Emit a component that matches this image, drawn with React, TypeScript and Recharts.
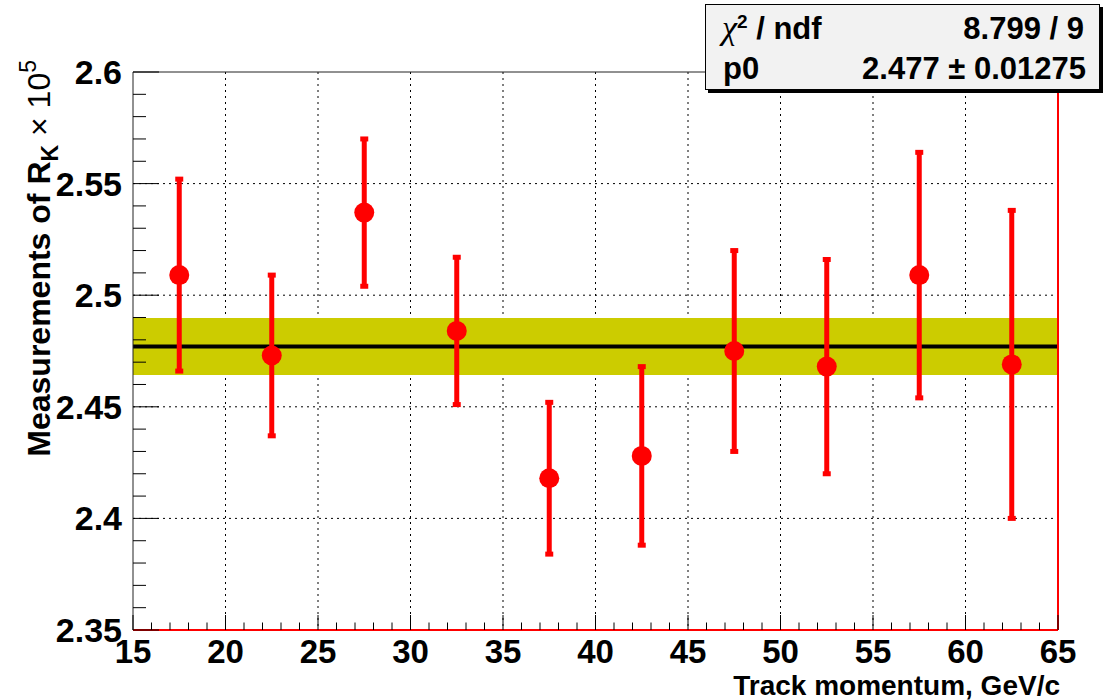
import React from 'react';
import {
  CartesianGrid,
  ComposedChart,
  ErrorBar,
  Label,
  ReferenceArea,
  ReferenceLine,
  Scatter,
  XAxis,
  YAxis,
} from 'recharts';

// measurements per momentum bin
const momentum = [17.5, 22.5, 27.5, 32.5, 37.5, 42.5, 47.5, 52.5, 57.5, 62.5];
const rk = [2.509, 2.473, 2.537, 2.484, 2.418, 2.428, 2.475, 2.468, 2.509, 2.469];
const rkErr = [0.043, 0.036, 0.033, 0.033, 0.034, 0.04, 0.045, 0.048, 0.055, 0.069];

// constant fit
const fitP0 = 2.477;
const fitP0Err = 0.01275;
const fitChi2 = '8.799';
const fitNdf = '9';

const xMajorTicks = [15, 20, 25, 30, 35, 40, 45, 50, 55, 60, 65];
const xMinorTicks = [
  16, 17, 18, 19, 21, 22, 23, 24, 26, 27, 28, 29, 31, 32, 33, 34, 36, 37, 38, 39, 41, 42, 43,
  44, 46, 47, 48, 49, 51, 52, 53, 54, 56, 57, 58, 59, 61, 62, 63, 64,
];
const yMajorTicks = [2.35, 2.4, 2.45, 2.5, 2.55, 2.6];
const yMinorTicks = [
  2.36, 2.37, 2.38, 2.39, 2.41, 2.42, 2.43, 2.44, 2.46, 2.47, 2.48, 2.49, 2.51, 2.52, 2.53, 2.54,
  2.56, 2.57, 2.58, 2.59,
];

const points = momentum.map((x, i) => ({ x, y: rk[i], err: rkErr[i] }));
const xTicks = [...xMajorTicks, ...xMinorTicks].sort((a, b) => a - b);
const yTicks = [...yMajorTicks, ...yMinorTicks].sort((a, b) => a - b);

const FONT = '"Liberation Sans", Arial, Helvetica, sans-serif';

function XTick(props: any) {
  const { x, y, payload } = props;
  const major = xMajorTicks.includes(payload.value);
  return (
    <g>
      <line x1={x} y1={y} x2={x} y2={y - (major ? 15 : 7.5)} stroke="#000" strokeWidth={1} />
      {major && (
        <text x={x} y={y + 33} textAnchor="middle" fontFamily={FONT} fontWeight="bold" fontSize={33} fill="#000">
          {payload.value}
        </text>
      )}
    </g>
  );
}

function YTick(props: any) {
  const { x, y, payload } = props;
  const major = yMajorTicks.includes(payload.value);
  return (
    <g>
      <line x1={x} y1={y} x2={x + (major ? 26 : 13)} y2={y} stroke="#000" strokeWidth={1} />
      {major && (
        <text x={x - 11} y={y + 12} textAnchor="end" fontFamily={FONT} fontWeight="bold" fontSize={34} fill="#000">
          {payload.value}
        </text>
      )}
    </g>
  );
}

function XTitle(props: any) {
  const { x, y, width } = props.viewBox;
  return (
    <text x={x + width + 2} y={y + 65} textAnchor="end" fontFamily={FONT} fontWeight="bold" fontSize={28} fill="#000">
      Track momentum, GeV/c
    </text>
  );
}

function YTitle(props: any) {
  const { x, y } = props.viewBox;
  const ax = x + 50;
  const ay = y - 12;
  return (
    <text
      x={ax}
      y={ay}
      transform={`rotate(-90 ${ax} ${ay})`}
      textAnchor="end"
      fontFamily={FONT}
      fontSize={32}
      fill="#000"
    >
      <tspan fontWeight="bold">Measurements of R</tspan>
      <tspan fontWeight="bold" fontSize={23} dy={8}>K</tspan>
      <tspan dy={-8}> × 10</tspan>
      <tspan fontSize={23} dy={-14}>5</tspan>
    </text>
  );
}

function Marker(props: any) {
  const { cx, cy } = props;
  return <circle cx={cx} cy={cy} r={10} fill="#ff0000" />;
}

export default function App() {
  return (
    <div style={{ position: 'absolute', left: 0, top: 0, width: 1106, height: 700, background: '#fff' }}>
      <ComposedChart width={1106} height={700} margin={{ top: 72, right: 48, bottom: 0, left: 0 }}>
        <CartesianGrid
          stroke="#000"
          strokeDasharray="2 4"
          horizontalValues={yMajorTicks.slice(1, -1)}
          verticalValues={xMajorTicks.slice(1, -1)}
        />
        <XAxis
          type="number"
          dataKey="x"
          domain={[15, 65]}
          ticks={xTicks}
          interval={0}
          height={70}
          tickLine={false}
          tickSize={0}
          tickMargin={0}
          tick={<XTick />}
          axisLine={{ stroke: '#ff0000', strokeWidth: 2 }}
          allowDataOverflow
        >
          <Label content={<XTitle />} />
        </XAxis>
        <YAxis
          type="number"
          dataKey="y"
          domain={[2.35, 2.6]}
          ticks={yTicks}
          interval={0}
          width={133}
          tickLine={false}
          tickSize={0}
          tickMargin={0}
          tick={<YTick />}
          axisLine={{ stroke: '#222', strokeWidth: 1 }}
          allowDataOverflow
        >
          <Label content={<YTitle />} />
        </YAxis>
        <ReferenceArea
          x1={15}
          x2={65}
          y1={fitP0 - fitP0Err}
          y2={fitP0 + fitP0Err}
          fill="#cccc00"
          fillOpacity={1}
          stroke="none"
        />
        <ReferenceLine y={fitP0} stroke="#000" strokeWidth={4} />
        <ReferenceLine y={2.6} stroke="#222" strokeWidth={1} />
        <ReferenceLine x={65} stroke="#ff0000" strokeWidth={2} />
        <Scatter data={points} dataKey="y" fill="#ff0000" shape={<Marker />} isAnimationActive={false}>
          <ErrorBar dataKey="err" direction="y" width={4} strokeWidth={5} stroke="#ff0000" isAnimationActive={false} />
        </Scatter>
      </ComposedChart>
      <div
        style={{
          position: 'absolute',
          left: 705,
          top: 4,
          width: 393,
          height: 84,
          background: '#f2f2f2',
          border: '1px solid #000',
          boxShadow: '3px 3px 0 #000',
          fontFamily: FONT,
          fontWeight: 'bold',
          fontSize: 31,
          color: '#000',
        }}
      >
        <div style={{ position: 'absolute', left: 16, top: 4 }}>
          <span style={{ fontFamily: '"Liberation Serif", serif', fontStyle: 'italic', fontWeight: 'normal', fontSize: 34 }}>χ</span>
          <sup style={{ fontSize: 19 }}>2</sup> / ndf
        </div>
        <div style={{ position: 'absolute', right: 15, top: 6 }}>
          {fitChi2} / {fitNdf}
        </div>
        <div style={{ position: 'absolute', left: 17, top: 46 }}>p0</div>
        <div style={{ position: 'absolute', right: 13, top: 46 }}>
          {fitP0} ± {fitP0Err}
        </div>
      </div>
    </div>
  );
}
